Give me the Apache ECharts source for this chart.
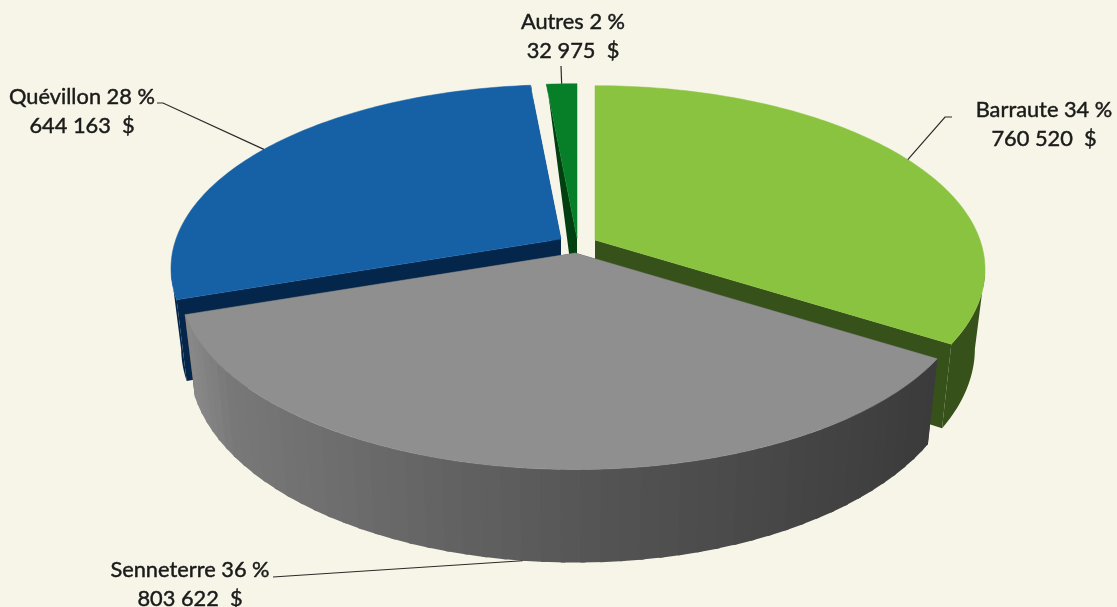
<!DOCTYPE html>
<html><head><meta charset="utf-8">
<style>html,body{margin:0;padding:0;background:#f7f5e8}#c{width:1117px;height:607px}</style>
<script src="https://cdn.jsdelivr.net/npm/echarts@6/dist/echarts.min.js"></script>
</head><body><div id="c"></div>
<script>
// Data (clockwise from 12 o'clock)
const categories = ['Barraute', 'Senneterre', 'Quévillon', 'Autres'];
const amounts = [760520, 803622, 644163, 32975];
const percents = [34, 36, 28, 2];
const amountLabels = ['760 520  $', '803 622  $', '644 163  $', '32 975  $'];

// Styling and layout
const paintOrder = [3, 2, 0, 1];
const topColors = ['#8ac340', '#8f8f8f', '#1660a6', '#067f28'];
const wallColors = ['#37511a', '#3c3c3c', '#04264a', '#024012'];
const apexes = [[595, 240], [575.3, 253], [561, 239], [577, 238]];
const sliceScale = [1, 1.016, 1, 1];
const labelBoxes = [[1044, 124], [190, 584], [82, 111], [573, 36]];
const leaderEnds = [[[945, 117], [952, 117]], [[288, 576], [273, 577]], [[163, 103], [157, 103]], [[561, 66]]];
const leaderFromBottom = [false, true, false, false];
const grayStops = [[190, 0x88], [230, 0x78], [580, 0x56], [935, 0x3b]];
const RX = 385, RY = 179, PERSP = 0.16, DEPTH = 77, SHRINK = 0.026;

const total = amounts.reduce((a, b) => a + b, 0);
const starts = [];
amounts.reduce((acc, v, i) => { starts[i] = acc; return acc + v; }, 0);
const toDeg = v => v / total * 360;

function rimPoint(i, deg, down) {
  const apex = apexes[i], s = sliceScale[i];
  const t = deg * Math.PI / 180, X = Math.sin(t), Y = -Math.cos(t);
  const f = s / (1 - PERSP * Y);
  const hide = Math.min(1, (Y + 1) / 0.5);
  return [apex[0] + RX * X * f * (1 - SHRINK * down), apex[1] + RY * Y * f + down * DEPTH * f * hide];
}
function sideGray(x) {
  let k = 0;
  while (k < grayStops.length - 2 && x > grayStops[k + 1][0]) k++;
  const a = grayStops[k], b = grayStops[k + 1];
  const v = a[1] + (x - a[0]) / (b[0] - a[0]) * (b[1] - a[1]);
  const g = Math.round(Math.max(0x38, Math.min(0x8a, v)));
  return 'rgb(' + g + ',' + g + ',' + g + ')';
}
function poly(points, color, stroke) {
  return { type: 'polygon', shape: { points }, style: { fill: color, stroke: stroke ? color : null, lineWidth: 0.5 } };
}
function facesFront(a) { return -Math.cos(a * Math.PI / 180) >= PERSP; }
function renderSlice(params, api) {
  const value = api.value(0), i = api.value(1);
  const a0 = toDeg(starts[i]), a1 = a0 + toDeg(value), apex = apexes[i];
  const children = [];
  const apexDown = [apex[0], apex[1] + DEPTH];
  // cut faces
  [a0, a1].forEach(a => children.push(poly([apex, rimPoint(i, a, 0), rimPoint(i, a, 1), apexDown], wallColors[i])));
  // outer side
  if (i === 1) {
    const step = 2.5;
    for (let a = a1 - step; a > a0 - step; a -= step) {
      const lo = Math.max(a0, a), hi = Math.min(a1, a + step + 0.6);
      const p0 = rimPoint(i, lo, 0), p1 = rimPoint(i, hi, 0);
      children.push(poly([p0, p1, rimPoint(i, hi, 1), rimPoint(i, lo, 1)], sideGray((p0[0] + p1[0]) / 2)));
    }
  } else {
    const upper = [], lower = [];
    const count = Math.ceil(a1 - a0);
    for (let n = 0; n <= count; n++) {
      const a = a0 + (a1 - a0) * n / count;
      if (facesFront(a)) { upper.push(rimPoint(i, a, 0)); lower.unshift(rimPoint(i, a, 1)); }
    }
    if (upper.length > 1) children.push(poly(upper.concat(lower), wallColors[i]));
  }
  // top face
  const top = [apex];
  for (let a = a0; a < a1; a += 1) top.push(rimPoint(i, a, 0));
  top.push(rimPoint(i, a1, 0));
  children.push(poly(top, topColors[i], true));
  // leader
  const mid = (a0 + a1) / 2;
  const start = rimPoint(i, mid, leaderFromBottom[i] ? 1 : 0);
  children.push({ type: 'polyline', z2: 5, shape: { points: [start].concat(leaderEnds[i]) },
    style: { fill: null, stroke: '#2a2a2a', lineWidth: 1.2 } });
  // label
  children.push({ type: 'text', z2: 6, style: {
    x: labelBoxes[i][0], y: labelBoxes[i][1],
    text: categories[i] + ' ' + percents[i] + ' %\n' + amountLabels[i],
    fill: '#1a1a1a', stroke: '#1a1a1a', lineWidth: 0.45,
    font: '21.8px Lato', lineHeight: 29, align: 'center', verticalAlign: 'middle' } });
  return { type: 'group', children };
}
const chart = echarts.init(document.getElementById('c'), null, { renderer: 'canvas' });
chart.setOption({
  animation: false,
  backgroundColor: '#f7f5e8',
  series: [{
    type: 'custom', coordinateSystem: 'none', silent: true, renderItem: renderSlice,
    encode: { value: 0 },
    data: paintOrder.map(i => [amounts[i], i])
  }]
});
</script></body></html>
